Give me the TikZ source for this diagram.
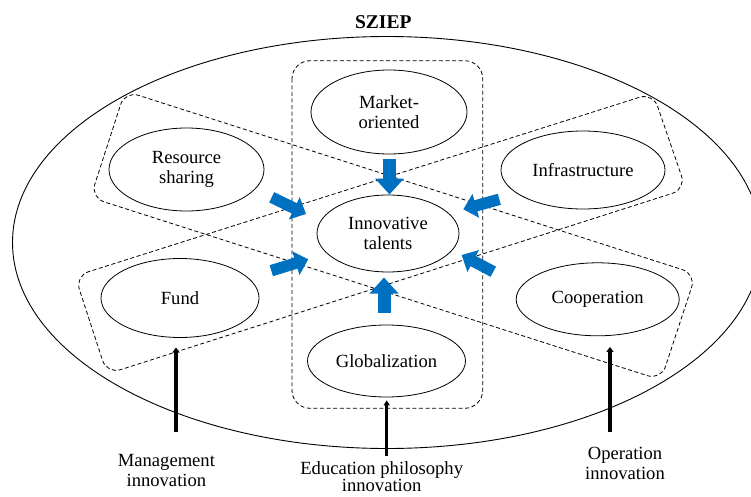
\documentclass[tikz,border=0pt]{standalone}
\usepackage{fontspec}
\setmainfont{Liberation Serif}
\usetikzlibrary{shapes.geometric,arrows.meta}
\definecolor{arrowblue}{RGB}{0,112,192}
\newcommand\lblfont{\fontsize{18.6}{19.5}\selectfont}
\begin{document}
\begin{tikzpicture}[x=1pt,y=-1pt,
  bub/.style={draw, line width=0.8pt, ellipse, fill=white, inner sep=0pt, align=center, font=\lblfont},
  dsh/.style={draw, line width=0.8pt, dash pattern=on 4pt off 2.6pt},
  lbl/.style={inner sep=0pt, align=center, font=\lblfont},
  blk/.style={line width=3.6pt, -{Triangle[length=5pt,width=7pt]}},
  blkthin/.style={line width=2.6pt, -{Triangle[length=5pt,width=6pt]}},
  bluev/.style={arrowblue, line width=13pt, -{Triangle[length=16pt,width=28pt]}},
  blued/.style={arrowblue, line width=11.5pt, -{Triangle[length=13pt,width=24pt]}}
]
\useasboundingbox (0,0) rectangle (751,497);
\clip (0,0) rectangle (751,497);

% outer ellipse and title
\node[draw, ellipse, line width=0.9pt, minimum width=749pt, minimum height=412pt, inner sep=0pt] (sziep) at (387,242.5) {};
\node[font=\bfseries\fontsize{19.5}{20}\selectfont, anchor=base, inner sep=0pt] (title) at (383.3,28.3) {SZIEP};

% dashed groups
\draw[dsh, rounded corners=18pt] (292,60.7) rectangle (482.7,408.3);
\draw[dsh, rounded corners=14pt] (410.5,182.5) -- (696,274) -- (661,380) -- (90.5,197.5) -- (125,91) -- cycle;
\draw[dsh, rounded corners=14pt] (364,184.5) -- (653,93) -- (686,189) -- (107,374) -- (75,276) -- cycle;

% ellipses
\node[bub, minimum width=156pt, minimum height=84pt] (market) at (389,112) {Market-\\oriented};
\node[bub, minimum width=155pt, minimum height=83pt] (resource) at (186.5,169.5) {Resource\\sharing};
\node[bub, minimum width=164pt, minimum height=78pt] (infra) at (583,170) {Infrastructure};
\node[bub, minimum width=142pt, minimum height=77pt] (inno) at (388,233.5) {Innovative\\talents};
\node[bub, minimum width=158pt, minimum height=79pt] (fund) at (180,298) {Fund};
\node[bub, minimum width=163pt, minimum height=73pt] (coop) at (597.7,299.3) {Cooperation};
\node[bub, minimum width=158pt, minimum height=72pt] (glob) at (386.5,361) {Globalization};

% blue arrows
\coordinate (tT) at (389.5,159);   \coordinate (hT) at (389.5,194.5);
\coordinate (tB) at (384,313);     \coordinate (hB) at (384,277.5);
\coordinate (tUL) at (271.7,197.3); \coordinate (hUL) at (306,214);
\coordinate (tLL) at (271.3,270.7); \coordinate (hLL) at (308.3,259.3);
\coordinate (tUR) at (499.3,199.3); \coordinate (hUR) at (463.3,209.3);
\coordinate (tLR) at (493.3,271.7); \coordinate (hLR) at (461.7,255);
\draw[bluev] (tT) -- (hT);
\draw[bluev] (tB) -- (hB);
\draw[blued] (tUL) -- (hUL);
\draw[blued] (tLL) -- (hLL);
\draw[blued] (tUR) -- (hUR);
\draw[blued] (tLR) -- (hLR);

% labels
\node[lbl, anchor=north] (mgmt) at (166.4,454.4) {Management\\innovation};
\node[lbl, anchor=north, font=\fontsize{18.6}{17.5}\selectfont] (edu) at (381.7,461) {Education philosophy\\innovation};
\node[lbl, anchor=north] (oper) at (625,447.4) {Operation\\innovation};

% black arrows
\coordinate (mtail) at (176,431.7);
\coordinate (etail) at (386.7,455.5);
\coordinate (otail) at (610,431.7);
\draw[blk, shorten >=9.6pt] (mtail) -- (mtail |- fund.south);
\draw[blkthin, shorten >=3pt] (etail) -- (etail |- glob.south);
\draw[blk, shorten >=10.7pt] (otail) -- (otail |- coop.south);
\end{tikzpicture}
\end{document}
